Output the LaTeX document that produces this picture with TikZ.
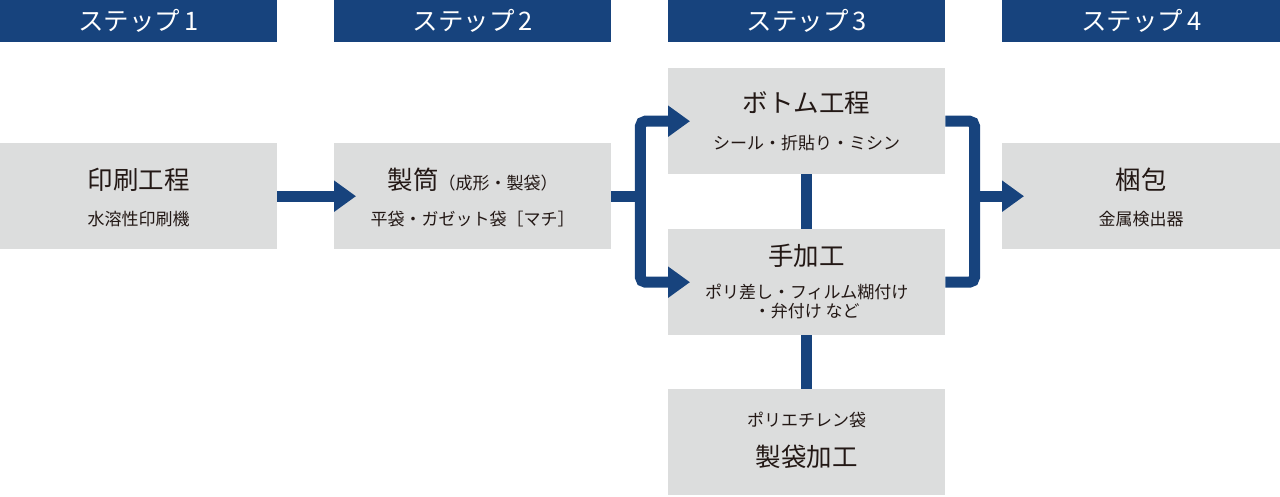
\documentclass[tikz,border=0pt]{standalone}
\usepackage{fontspec}
\setmainfont{Noto Sans CJK JP}
\usetikzlibrary{arrows.meta,calc}
\definecolor{navy}{HTML}{17437D}
\definecolor{boxgray}{HTML}{DCDDDD}
\definecolor{ink}{HTML}{231815}
\begin{document}
\begin{tikzpicture}[x=1pt,y=-1pt,
  box/.style={fill=boxgray,draw=none,minimum width=277pt,minimum height=106pt,anchor=north west,inner sep=0pt},
  head/.style={fill=navy,text=white,minimum width=277pt,minimum height=42pt,anchor=north west,inner sep=0pt,font=\fontsize{25.5}{26}\selectfont},
  big/.style={text=ink,font=\fontsize{25.5}{28}\selectfont,inner sep=0pt},
  small/.style={text=ink,font=\fontsize{17}{19}\selectfont,inner sep=0pt},
  conn/.style={draw=navy,line width=11pt},
  arr/.style={conn,-{Triangle[length=22pt,width=30pt]}},
  ]
\useasboundingbox (0,0) rectangle (1280,496);
% headers
\node[head] (h1) at (0,0) {ステップ\,1};
\node[head] (h2) at (334,0) {ステップ\,2};
\node[head] (h3) at (668,0) {ステップ\,3};
\node[head,minimum width=278pt] (h4) at (1002,0) {ステップ\,4};
% boxes
\node[box] (b1) at (0,143) {};
\node[box] (b2) at (334,143) {};
\node[box] (b3) at (668,68) {};
\node[box] (b4) at (668,229) {};
\node[box] (b5) at (668,389) {};
\node[box,minimum width=278pt] (b6) at (1002,143) {};
% texts
\node[big] (t1a) at ($(b1.center)+(0,-16)$) {印刷工程};
\node[small] (t1b) at ($(b1.center)+(0,23)$) {水溶性印刷機};
\node[big] (t2a) at ($(b2.center)+(0,-16)$) {製筒{\fontsize{17}{19}\selectfont （成形・製袋）}};
\node[small] (t2b) at ($(b2.center)+(0,23)$) {平袋・ガゼット袋［マチ］};
\node[big] (t3a) at ($(b3.center)+(0,-18)$) {ボトム工程};
\node[small] (t3b) at ($(b3.center)+(0,22)$) {シール・折貼り・ミシン};
\node[big] (t4a) at ($(b4.center)+(0,-26)$) {手加工};
\node[small] (t4b) at ($(b4.center)+(0,10)$) {ポリ差し・フィルム糊付け};
\node[small] (t4c) at ($(b4.center)+(0,29)$) {・弁付け など};
\node[small] (t5a) at ($(b5.center)+(0,-22)$) {ポリエチレン袋};
\node[big] (t5b) at ($(b5.center)+(0,15)$) {製袋加工};
\node[big] (t6a) at ($(b6.center)+(0,-16)$) {梱包};
\node[small] (t6b) at ($(b6.center)+(0,23)$) {金属検出器};
% connectors
\draw[arr] (b1.east) -- ($(b2.west)+(22,0)$);
\coordinate (jl) at ($(b2.east)+(29,0)$);
\draw[conn] (b2.east) -- (jl);
\draw[arr,rounded corners=5pt] (jl) |- ($(b3.west)+(22,0)$);
\draw[arr,rounded corners=5pt] (jl) |- ($(b4.west)+(22,0)$);
\coordinate (jr) at ($(b6.west)+(-27.5,0)$);
\draw[conn,rounded corners=5pt] (b3.east) -| (jr) |- (b4.east);
\draw[arr] (jr) -- ($(b6.west)+(22,0)$);
\draw[conn] (b3.south) -- (b4.north);
\draw[conn] (b4.south) -- (b5.north);
\end{tikzpicture}
\end{document}
